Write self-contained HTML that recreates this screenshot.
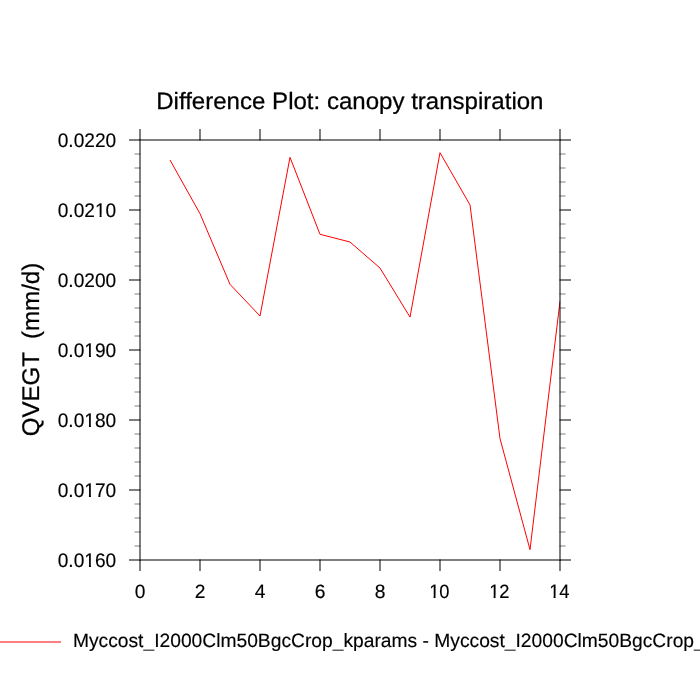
<!DOCTYPE html>
<html><head><meta charset="utf-8"><title>Difference Plot</title>
<style>html,body{margin:0;padding:0;background:#fff;overflow:hidden}svg{display:block}text{font-family:"Liberation Sans",sans-serif;fill:#000;white-space:pre;text-rendering:geometricPrecision}</style>
</head><body>
<svg width="700" height="700" viewBox="0 0 700 700">
<rect width="700" height="700" fill="#fff"/>
<defs><clipPath id="k0"><path clip-rule="evenodd" d="M-5 -25H63.72V8H-5ZM38.14 -2.34H42.01V3H38.14ZM44.06 -2.34H47.74V3H44.06Z"/></clipPath><clipPath id="k1"><path clip-rule="evenodd" d="M-5 -25H63.72V8H-5ZM27.46 -2.34H31.33V3H27.46ZM33.38 -2.34H37.06V3H33.38Z"/></clipPath><clipPath id="k2"><path clip-rule="evenodd" d="M-5 -25H26.36V8H-5ZM0.77 -2.34H4.64V3H0.77ZM6.69 -2.34H10.37V3H6.69Z"/></clipPath></defs>
<clipPath id="c"><rect x="0" y="0" width="560.6" height="700"/></clipPath>
<polyline clip-path="url(#c)" points="170,160 200,213.7 230,284.3 260,316.0 290,157.3 320,234.3 350,242 380,268 410,317.1 440,152.7 470,204.9 500,438.6 530,549.65 560,301.3" fill="none" stroke="#f00" stroke-width="1" stroke-linejoin="round"/>
<path d="M139 139H561V561H139ZM141 141V559H559V141Z" fill="#000" fill-opacity="0.5" fill-rule="evenodd"/>
<path d="M139 129h2v11.5h-2zM139 559.5h2v11.5h-2zM199 129h2v11.5h-2zM199 559.5h2v11.5h-2zM259 129h2v11.5h-2zM259 559.5h2v11.5h-2zM319 129h2v11.5h-2zM319 559.5h2v11.5h-2zM379 129h2v11.5h-2zM379 559.5h2v11.5h-2zM439 129h2v11.5h-2zM439 559.5h2v11.5h-2zM499 129h2v11.5h-2zM499 559.5h2v11.5h-2zM559 129h2v11.5h-2zM559 559.5h2v11.5h-2z" fill="#000" fill-opacity="0.5"/>
<path d="M129 139h11.5v2h-11.5zM559.5 139h11.5v2h-11.5zM129 209h11.5v2h-11.5zM559.5 209h11.5v2h-11.5zM129 279h11.5v2h-11.5zM559.5 279h11.5v2h-11.5zM129 349h11.5v2h-11.5zM559.5 349h11.5v2h-11.5zM129 419h11.5v2h-11.5zM559.5 419h11.5v2h-11.5zM129 489h11.5v2h-11.5zM559.5 489h11.5v2h-11.5zM129 559h11.5v2h-11.5zM559.5 559h11.5v2h-11.5z" fill="#000" fill-opacity="0.5"/>
<path d="M134.5 153h6v2h-6zM559.5 153h6v2h-6zM134.5 167h6v2h-6zM559.5 167h6v2h-6zM134.5 181h6v2h-6zM559.5 181h6v2h-6zM134.5 195h6v2h-6zM559.5 195h6v2h-6zM134.5 223h6v2h-6zM559.5 223h6v2h-6zM134.5 237h6v2h-6zM559.5 237h6v2h-6zM134.5 251h6v2h-6zM559.5 251h6v2h-6zM134.5 265h6v2h-6zM559.5 265h6v2h-6zM134.5 293h6v2h-6zM559.5 293h6v2h-6zM134.5 307h6v2h-6zM559.5 307h6v2h-6zM134.5 321h6v2h-6zM559.5 321h6v2h-6zM134.5 335h6v2h-6zM559.5 335h6v2h-6zM134.5 363h6v2h-6zM559.5 363h6v2h-6zM134.5 377h6v2h-6zM559.5 377h6v2h-6zM134.5 391h6v2h-6zM559.5 391h6v2h-6zM134.5 405h6v2h-6zM559.5 405h6v2h-6zM134.5 433h6v2h-6zM559.5 433h6v2h-6zM134.5 447h6v2h-6zM559.5 447h6v2h-6zM134.5 461h6v2h-6zM559.5 461h6v2h-6zM134.5 475h6v2h-6zM559.5 475h6v2h-6zM134.5 503h6v2h-6zM559.5 503h6v2h-6zM134.5 517h6v2h-6zM559.5 517h6v2h-6zM134.5 531h6v2h-6zM559.5 531h6v2h-6zM134.5 545h6v2h-6zM559.5 545h6v2h-6z" fill="#000" fill-opacity="0.25"/>
<rect x="0" y="641" width="61" height="2" fill="#f00" fill-opacity="0.5"/>
<text transform="translate(349.85,109) scale(1.0235,1.005)" text-anchor="middle" font-size="23.5" stroke="#000" stroke-width="0.25">Difference Plot: canopy transpiration</text>
<g transform="translate(57.71,147) scale(0.996,1.029)"><text x="0" y="0" font-size="19.2" stroke="#000" stroke-width="0.15">0.0220</text></g>
<g transform="translate(57.71,217) scale(0.996,1.029)"><text x="0" y="0" font-size="19.2" stroke="#000" stroke-width="0.15" clip-path="url(#k0)">0.0210</text></g>
<g transform="translate(57.71,287) scale(0.996,1.029)"><text x="0" y="0" font-size="19.2" stroke="#000" stroke-width="0.15">0.0200</text></g>
<g transform="translate(57.71,357) scale(0.996,1.029)"><text x="0" y="0" font-size="19.2" stroke="#000" stroke-width="0.15" clip-path="url(#k1)">0.0190</text></g>
<g transform="translate(57.71,427) scale(0.996,1.029)"><text x="0" y="0" font-size="19.2" stroke="#000" stroke-width="0.15" clip-path="url(#k1)">0.0180</text></g>
<g transform="translate(57.71,497) scale(0.996,1.029)"><text x="0" y="0" font-size="19.2" stroke="#000" stroke-width="0.15" clip-path="url(#k1)">0.0170</text></g>
<g transform="translate(57.71,567) scale(0.996,1.029)"><text x="0" y="0" font-size="19.2" stroke="#000" stroke-width="0.15" clip-path="url(#k1)">0.0160</text></g>
<g transform="translate(134.86,598) scale(1.0,1.008)"><text x="0" y="0" font-size="19.2" stroke="#000" stroke-width="0.15">0</text></g>
<g transform="translate(194.86,598) scale(1.0,1.008)"><text x="0" y="0" font-size="19.2" stroke="#000" stroke-width="0.15">2</text></g>
<g transform="translate(254.86,598) scale(1.0,1.008)"><text x="0" y="0" font-size="19.2" stroke="#000" stroke-width="0.15">4</text></g>
<g transform="translate(314.86,598) scale(1.0,1.008)"><text x="0" y="0" font-size="19.2" stroke="#000" stroke-width="0.15">6</text></g>
<g transform="translate(374.86,598) scale(1.0,1.008)"><text x="0" y="0" font-size="19.2" stroke="#000" stroke-width="0.15">8</text></g>
<g transform="translate(429.15,598) scale(0.955,1.008)"><text x="0" y="0" font-size="19.2" stroke="#000" stroke-width="0.15" clip-path="url(#k2)">10</text></g>
<g transform="translate(489.15,598) scale(0.955,1.008)"><text x="0" y="0" font-size="19.2" stroke="#000" stroke-width="0.15" clip-path="url(#k2)">12</text></g>
<g transform="translate(549.15,598) scale(0.955,1.008)"><text x="0" y="0" font-size="19.2" stroke="#000" stroke-width="0.15" clip-path="url(#k2)">14</text></g>
<text transform="translate(39.0,349.5) rotate(-90)" text-anchor="middle" font-size="24.1" stroke="#000" stroke-width="0.25">QVEGT  (mm/d)</text>
<text x="72.9" y="646.6" font-size="19.24" stroke="#000" stroke-width="0.15">Myccost<tspan stroke="none" fill-opacity="0.8">_</tspan>I2000Clm50BgcCrop<tspan stroke="none" fill-opacity="0.8">_</tspan>kparams - Myccost<tspan stroke="none" fill-opacity="0.8">_</tspan>I2000Clm50BgcCrop<tspan stroke="none" fill-opacity="0.8">_</tspan>kparams</text>
</svg>
</body></html>
